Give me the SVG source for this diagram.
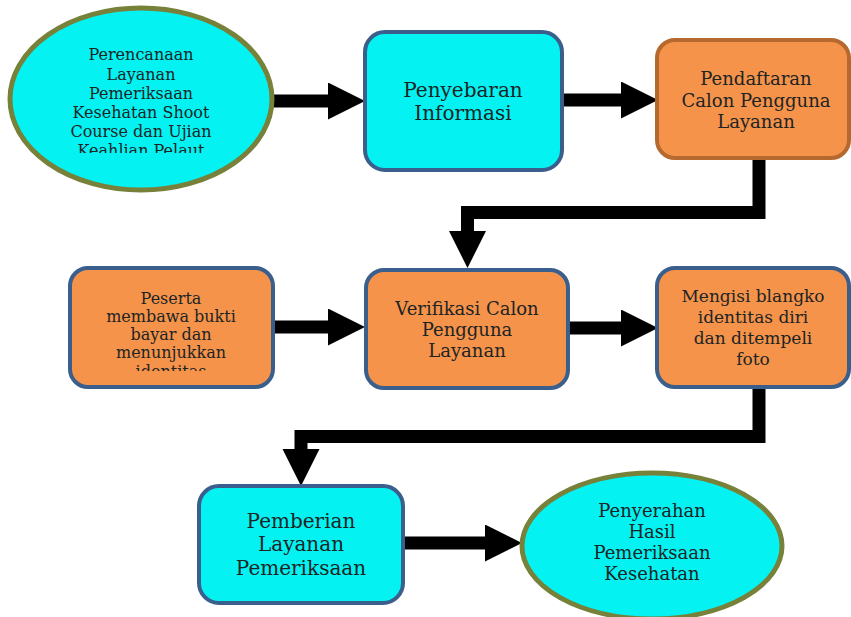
<svg xmlns="http://www.w3.org/2000/svg" width="851" height="617" viewBox="0 0 851 617">
<style>
.cy{fill:#05f2f2}
.ell{stroke:#77813a;stroke-width:5}
.bx{stroke:#3b5f8c;stroke-width:4}
.or{fill:#f5934a}
.br{stroke:#b5692e;stroke-width:4}
text{font-family:"DejaVu Serif","Liberation Serif",serif;fill:#1c2424;text-anchor:middle}
.sh{fill:none;stroke:#000;stroke-width:13;stroke-linejoin:miter}
</style>
<defs>
<marker id="ah" markerUnits="userSpaceOnUse" markerWidth="38" markerHeight="38" refX="0" refY="18.5" orient="auto">
<path d="M0,0 L37,18.5 L0,37 z" fill="#000"/>
</marker>
<clipPath id="c1"><rect x="0" y="0" width="300" height="153"/></clipPath>
<clipPath id="c4"><rect x="60" y="260" width="230" height="111"/></clipPath>
</defs>
<rect width="851" height="617" fill="#fff"/>
<g id="connectors">
<path class="sh" d="M272,101 H328" marker-end="url(#ah)"/>
<path class="sh" d="M562,100 H621" marker-end="url(#ah)"/>
<path class="sh" d="M759,158 V212.5 H467.5 V231" marker-end="url(#ah)"/>
<path class="sh" d="M273,327 H328" marker-end="url(#ah)"/>
<path class="sh" d="M568,328 H621" marker-end="url(#ah)"/>
<path class="sh" d="M759,387 V436.5 H301 V449" marker-end="url(#ah)"/>
<path class="sh" d="M403,543 H485" marker-end="url(#ah)"/>
</g>
<g id="n1">
<ellipse class="cy ell" cx="141" cy="99" rx="131" ry="91"/>
<g font-size="16" clip-path="url(#c1)">
<text x="141" y="60" style="font-size:16px">Perencanaan</text>
<text x="141" y="80" style="font-size:16px">Layanan</text>
<text x="141" y="99" style="font-size:16px">Pemeriksaan</text>
<text x="141" y="118" style="font-size:16px">Kesehatan Shoot</text>
<text x="141" y="137" style="font-size:16px">Course dan Ujian</text>
<text x="141" y="156" style="font-size:16px">Keahlian Pelaut</text>
</g>
</g>
<g id="n2">
<rect class="cy bx" x="365" y="32" width="197" height="138" rx="20"/>
<text x="463" y="97" style="font-size:20px">Penyebaran</text>
<text x="463" y="120" style="font-size:20px">Informasi</text>
</g>
<g id="n3">
<rect class="or br" x="657" y="40" width="192" height="118" rx="18"/>
<text x="756" y="85" style="font-size:18px">Pendaftaran</text>
<text x="756" y="107" style="font-size:18px">Calon Pengguna</text>
<text x="756" y="128" style="font-size:18px">Layanan</text>
</g>
<g id="n4">
<rect class="or bx" x="70" y="268" width="203" height="119" rx="18"/>
<g clip-path="url(#c4)">
<text x="171" y="304" style="font-size:16px">Peserta</text>
<text x="171" y="322" style="font-size:16px">membawa bukti</text>
<text x="171" y="340" style="font-size:16px">bayar dan</text>
<text x="171" y="358" style="font-size:16px">menunjukkan</text>
<text x="171" y="377" style="font-size:16px">identitas</text>
</g>
</g>
<g id="n5">
<rect class="or bx" x="366" y="270" width="202" height="118" rx="18"/>
<text x="467" y="315" style="font-size:18px">Verifikasi Calon</text>
<text x="467" y="336" style="font-size:18px">Pengguna</text>
<text x="467" y="357" style="font-size:18px">Layanan</text>
</g>
<g id="n6">
<rect class="or bx" x="657" y="268" width="192" height="119" rx="18"/>
<text x="753" y="302" style="font-size:17px">Mengisi blangko</text>
<text x="753" y="323" style="font-size:17px">identitas diri</text>
<text x="753" y="344" style="font-size:17px">dan ditempeli</text>
<text x="753" y="365" style="font-size:17px">foto</text>
</g>
<g id="n7">
<rect class="cy bx" x="199" y="486" width="204" height="117" rx="20"/>
<text x="301" y="528" style="font-size:20px">Pemberian</text>
<text x="301" y="551" style="font-size:20px">Layanan</text>
<text x="301" y="575" style="font-size:20px">Pemeriksaan</text>
</g>
<g id="n8">
<ellipse class="cy ell" cx="652" cy="546" rx="130" ry="73"/>
<text x="652" y="517" style="font-size:18px">Penyerahan</text>
<text x="652" y="538" style="font-size:18px">Hasil</text>
<text x="652" y="559" style="font-size:18px">Pemeriksaan</text>
<text x="652" y="580" style="font-size:18px">Kesehatan</text>
</g>
</svg>
